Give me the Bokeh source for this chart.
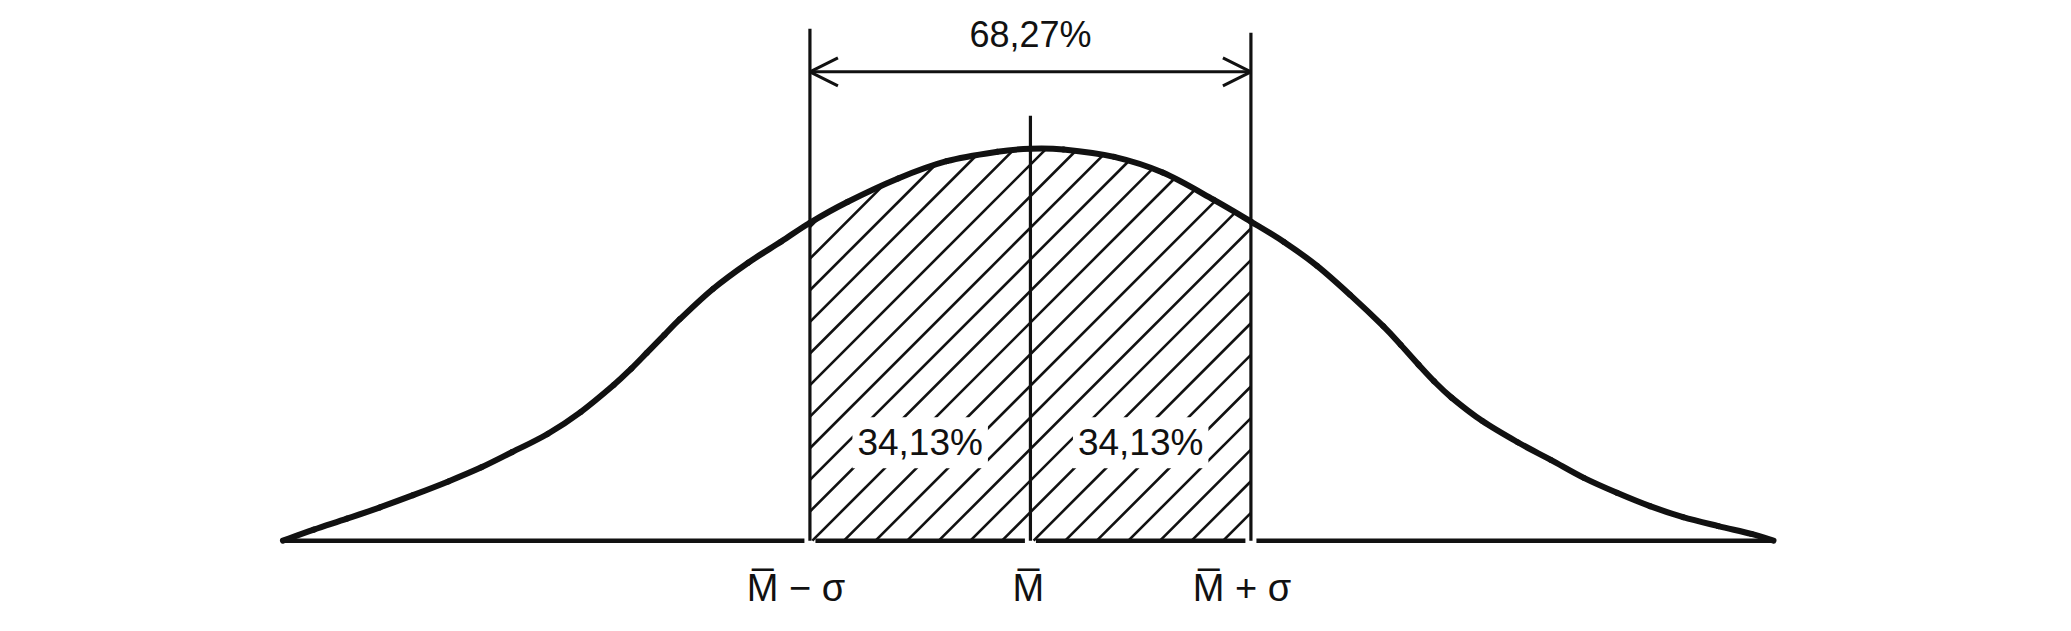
import numpy as np
from bokeh.plotting import figure
from bokeh.models import Range1d, Label, Arrow, OpenHead
from bokeh.embed import file_html
from bokeh.resources import INLINE

# Curve: x in units of sigma (mean = 0), y relative to the peak
curve_x = [-3.39, -3.25, -3.10, -2.95, -2.80, -2.64, -2.49, -2.35, -2.19, -2.04,
           -1.89, -1.81, -1.74, -1.66, -1.59, -1.44, -1.28, -1.13, -1.00, -0.83,
           -0.60, -0.38, -0.15, 0.00, 0.15, 0.38, 0.60, 0.83, 1.00, 1.15,
           1.30, 1.45, 1.60, 1.68, 1.76, 1.83, 1.91, 2.05, 2.21, 2.36,
           2.51, 2.66, 2.81, 2.96, 3.12, 3.27, 3.37]
curve_y = [0.000, 0.028, 0.056, 0.085, 0.116, 0.151, 0.187, 0.226, 0.272, 0.328,
           0.397, 0.439, 0.479, 0.525, 0.565, 0.642, 0.709, 0.763, 0.811, 0.864,
           0.924, 0.968, 0.992, 1.000, 0.998, 0.979, 0.939, 0.870, 0.814, 0.762,
           0.701, 0.627, 0.547, 0.499, 0.449, 0.407, 0.365, 0.305, 0.251, 0.206,
           0.160, 0.122, 0.088, 0.060, 0.037, 0.017, 0.000]

sigma_marks = [-1.0, 0.0, 1.0]
mark_tops = [1.306, 1.084, 1.296]
mark_labels = ["M\u0305 \u2212 \u03c3", "M\u0305", "M\u0305 + \u03c3"]
span_label = "68,27%"
half_label_x = [-0.5, 0.5]
half_labels = ["34,13%", "34,13%"]
half_label_y = 0.25
arrow_y = 1.196

FONT = "Liberation Sans"
INK = "#111111"
W, H = 2055, 615
X0, X1 = -4.671, 4.649
Y0, Y1 = -0.191, 1.378

p = figure(width=W, height=H,
           x_range=Range1d(X0, X1), y_range=Range1d(Y0, Y1),
           x_axis_type=None, y_axis_type=None,
           output_backend="svg", toolbar_location=None, min_border=0)
p.grid.visible = False
p.outline_line_color = None
p.background_fill_color = "white"
p.border_fill_color = "white"

# ---- hatching (45 degree lines on screen) between -sigma and +sigma ----
lo, hi = sigma_marks[0], sigma_marks[-1]
kx = W / (X1 - X0)          # px per data unit, x
ky = H / (Y1 - Y0)          # px per data unit, y
slope = kx / ky             # data slope of a 45-degree screen line
hatch_gap = 31.6 / kx       # spacing along the baseline
hatch_phase = -0.989
cx, cy = np.array(curve_x), np.array(curve_y)
xs = np.linspace(lo, hi, 6001)
top = np.interp(xs, cx, cy)
hx0, hy0, hx1, hy1 = [], [], [], []
n_back = int(np.ceil((1.1 / slope) / hatch_gap)) + 1
n_fwd = int(np.ceil((hi - hatch_phase) / hatch_gap)) + 1
for k in range(-n_back, n_fwd):
    c = hatch_phase + k * hatch_gap
    yl = slope * (xs - c)
    inside = np.where((yl >= 0) & (yl <= top))[0]
    if inside.size < 2:
        continue
    i0, i1 = inside[0], inside[-1]
    hx0.append(xs[i0]); hy0.append(yl[i0]); hx1.append(xs[i1]); hy1.append(yl[i1])
p.segment(x0=hx0, y0=hy0, x1=hx1, y1=hy1, line_width=2.6, line_color=INK)

# baseline, with small gaps at the marks
gap = 0.025
x0s = [curve_x[0]] + [m + gap for m in sigma_marks]
x1s = [m - gap for m in sigma_marks] + [curve_x[-1]]
p.segment(x0=x0s, y0=0, x1=x1s, y1=0, line_width=4.5, line_color=INK)

# vertical marks
p.segment(x0=sigma_marks, y0=0, x1=sigma_marks, y1=mark_tops,
          line_width=3.2, line_color=INK)

# the curve, drawn as a smooth path through the read points (Catmull-Rom -> Bezier)
P = np.column_stack([cx, cy])
Pp = np.vstack([P[0], P, P[-1]])
b0 = Pp[1:-2]
b3 = Pp[2:-1]
c0 = b0 + (Pp[2:-1] - Pp[0:-3]) / 6.0
c1 = b3 - (Pp[3:] - Pp[1:-2]) / 6.0
p.bezier(x0=b0[:, 0], y0=b0[:, 1], x1=b3[:, 0], y1=b3[:, 1],
         cx0=c0[:, 0], cy0=c0[:, 1], cx1=c1[:, 0], cy1=c1[:, 1],
         line_width=6, line_color=INK, line_cap="round")

# arrow for 68,27 %
p.add_layout(Arrow(x_start=lo, y_start=arrow_y, x_end=hi, y_end=arrow_y,
                   line_width=3, line_color=INK,
                   start=OpenHead(size=28, line_width=3, line_color=INK),
                   end=OpenHead(size=28, line_width=3, line_color=INK)))
p.add_layout(Label(x=0, y=arrow_y, y_offset=37, text=span_label,
                   text_align="center", text_baseline="middle",
                   text_font=FONT, text_font_size="36px", text_color=INK))

for hx, ht in zip(half_label_x, half_labels):
    p.add_layout(Label(x=hx, y=half_label_y, text=ht,
                       text_align="center", text_baseline="middle",
                       text_font=FONT, text_font_size="37px", text_color=INK,
                       background_fill_color="white", padding=5))

label_shift = [-14, -2, -9]
for m, t, s in zip(sigma_marks, mark_labels, label_shift):
    p.add_layout(Label(x=m, y=0, x_offset=s, y_offset=-47, text=t,
                       text_align="center", text_baseline="middle",
                       text_font=FONT, text_font_size="38px", text_color=INK))

open("out.html", "w").write(file_html(p, INLINE))
